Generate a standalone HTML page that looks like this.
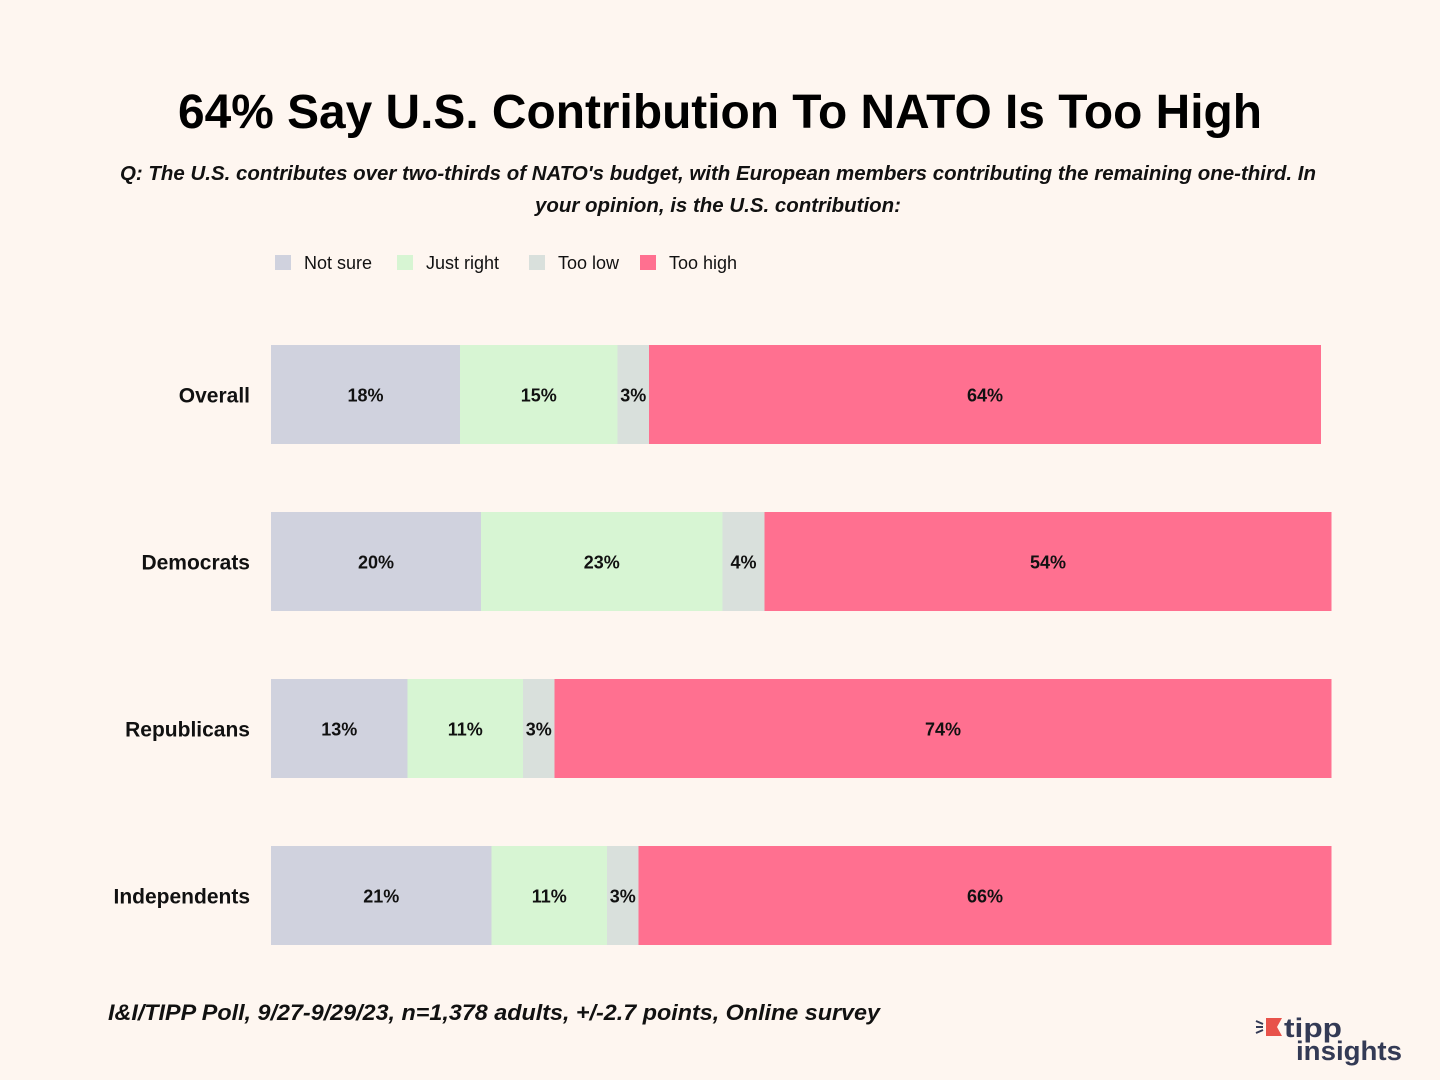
<!DOCTYPE html>
<html><head><meta charset="utf-8"><style>
body{margin:0;background:#fef6f0;}
svg{display:block;font-family:"Liberation Sans",sans-serif;}
</style></head><body>
<svg id="c" width="1440" height="1080" viewBox="0 0 1440 1080">
<rect width="1440" height="1080" fill="#fef6f0"/>
<text x="720" y="128" text-anchor="middle" font-size="48" font-weight="bold" fill="#000" textLength="1084" lengthAdjust="spacingAndGlyphs">64% Say U.S. Contribution To NATO Is Too High</text>
<text x="718" y="180" text-anchor="middle" font-size="20" font-style="italic" font-weight="bold" fill="#111" textLength="1196" lengthAdjust="spacingAndGlyphs">Q: The U.S. contributes over two-thirds of NATO's budget, with European members contributing the remaining one-third. In</text>
<text x="718" y="212" text-anchor="middle" font-size="20" font-style="italic" font-weight="bold" fill="#111" textLength="366" lengthAdjust="spacingAndGlyphs">your opinion, is the U.S. contribution:</text>
<g id="legend"></g>
<g id="bars"></g>
<text x="108" y="1020" font-size="22" font-style="italic" font-weight="bold" fill="#111" textLength="772" lengthAdjust="spacingAndGlyphs">I&amp;I/TIPP Poll, 9/27-9/29/23, n=1,378 adults, +/-2.7 points, Online survey</text>
<g>
<polygon points="1266,1018 1282,1018 1277,1027 1282,1036 1266,1036" fill="#e8524a"/>
<path d="M1256,1021 l7,3 M1256,1027 l7,0 M1256,1033 l7,-3" stroke="#333a55" stroke-width="2"/>
<text x="1284" y="1037" font-size="27" font-weight="bold" fill="#333a55" textLength="58" lengthAdjust="spacingAndGlyphs">tipp</text>
<text x="1296" y="1060" font-size="27" font-weight="bold" fill="#333a55" textLength="106" lengthAdjust="spacingAndGlyphs">insights</text>
</g>
</svg>
<script>
const categories=["Overall","Democrats","Republicans","Independents"];
const seriesNames=["Not sure","Just right","Too low","Too high"];
const notSure=[18,20,13,21];
const justRight=[15,23,11,11];
const tooLow=[3,4,3,3];
const tooHigh=[64,54,74,66];
const series=[notSure,justRight,tooLow,tooHigh];
const colors=["#d0d2de","#d7f5d3","#d9e0dc","#ff7090"];
const NS="http://www.w3.org/2000/svg";
const x0=271,pxPer=10.5;
const xScale=v=>x0+v*pxPer;
const yScale=i=>345+i*167;
const bh=99;
function mk(t,a,p){const e=document.createElementNS(NS,t);for(const k in a)e.setAttribute(k,a[k]);p.appendChild(e);return e;}
const lg=document.getElementById('legend');
const lx=[275,397,529,640];
seriesNames.forEach((n,i)=>{
 const r=mk('rect',{x:lx[i],y:255,width:16,height:15,fill:colors[i]},lg);
 
 
 const t=mk('text',{x:lx[i]+29,y:269,'font-size':18,'font-weight':'500',fill:'#111'},lg);
 t.textContent=n;
 
 
});
const bg=document.getElementById('bars');
categories.forEach((c,i)=>{
 const y=yScale(i);
 const lab=mk('text',{x:250,y:y+bh/2+8,'text-anchor':'end','font-size':21,'font-weight':'bold',fill:'#111'},bg);
 lab.textContent=c;
 
 
 let cum=0;
 series.forEach((s,j)=>{
  const v=s[i];
  const r=mk('rect',{x:xScale(cum),y:y,width:v*pxPer,height:bh,fill:colors[j]},bg);
  
  
  const t=mk('text',{x:xScale(cum+v/2),y:y+bh/2+7,'text-anchor':'middle','font-size':18,'font-weight':'bold',fill:'#111'},bg);
  t.textContent=v+'%';
  
  
  cum+=v;
 });
});
</script>
</body></html>
